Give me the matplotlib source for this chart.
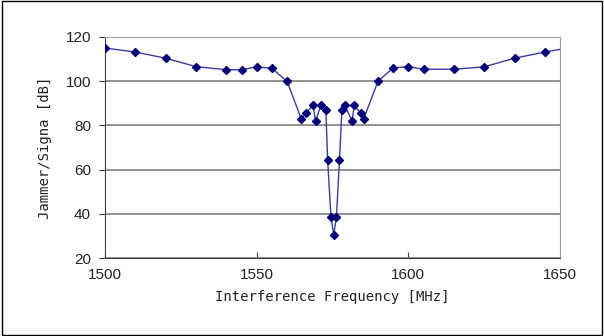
import numpy as np
import matplotlib
matplotlib.use("Agg")
import matplotlib.pyplot as plt
from matplotlib.patches import Rectangle

freq = [1500, 1510, 1520, 1530, 1540, 1545, 1550, 1555, 1560,
        1564.7, 1566.1, 1568.6, 1569.4, 1571.3, 1572.8, 1573.4, 1574.5, 1575.4,
        1576.3, 1577.3, 1578.1, 1579.0, 1581.4, 1582.2, 1584.4, 1585.3,
        1590, 1595, 1600, 1605, 1615, 1625, 1635, 1645, 1650]
js = [115, 113.2, 110.4, 106.6, 105.2, 105.2, 106.5, 105.8, 100,
      83, 85.4, 89.1, 82.1, 89.4, 87, 64.2, 38.6, 30.5,
      38.6, 64.2, 87, 89.4, 82.1, 89.1, 85.4, 83,
      100, 106, 106.6, 105.4, 105.4, 106.5, 110.4, 113.2, 114.4]

xticks = [1500, 1550, 1600, 1650]
yticks = [20, 40, 60, 80, 100, 120]

fig = plt.figure(figsize=(6.04, 3.36), dpi=100)
ax = fig.add_axes([105/604, 1 - 258/336, 455/604, 221/336])

ax.plot(freq, js, color='#3a3aa8', lw=1.0, zorder=3)
# last point sits on the frame, no marker drawn there
ax.plot(freq[:-1], js[:-1], ls='none', marker='D', ms=4.5,
        color='#00007a', zorder=4)

ax.set_xlim(1500, 1650)
ax.set_ylim(20, 120)
ax.set_xticks(xticks)
ax.set_yticks(yticks)
ax.yaxis.grid(True, color='#808080', lw=1.2)
ax.set_axisbelow(True)

for s in ['left', 'bottom']:
    ax.spines[s].set_color('#404040')
for s in ['top', 'right']:
    ax.spines[s].set_color('#a0a0a0')

ax.tick_params(axis='x', direction='in', length=4, color='#404040',
               labelsize=11, pad=7)
ax.tick_params(axis='y', direction='out', length=4, color='#404040',
               labelsize=11, pad=6)
for lab in ax.get_xticklabels() + ax.get_yticklabels():
    lab.set_fontfamily('Liberation Sans')
    lab.set_color('#222222')

ax.set_xlabel('Interference Frequency [MHz]', fontfamily='DejaVu Sans Mono',
              fontsize=10, labelpad=6, color='#222222')
ax.set_ylabel('Jammer/Signa [dB]', fontfamily='DejaVu Sans Mono',
              fontsize=10, labelpad=10, color='#222222')

# border around the whole figure
fig.patches.append(Rectangle((0.003, 0.004), 0.994, 0.992, transform=fig.transFigure,
                             fill=False, edgecolor='#000000', lw=1.0))

fig.savefig('out.png', dpi=100)
